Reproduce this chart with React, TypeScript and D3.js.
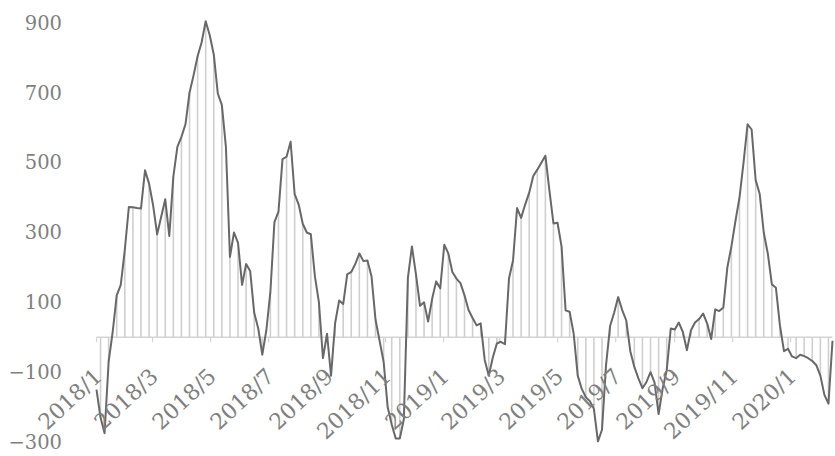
import { useEffect, useRef } from "react";
import * as d3 from "d3";

// weekly-ish readings, Jan 2018 -> mid Feb 2020
const VALUES = [
  -150, -230, -275, -70, 15, 120, 150, 250, 373, 372,
  370, 369, 478, 440, 378, 295, 345, 395, 290, 460,
  545, 574, 610, 700, 750, 805, 845, 905, 865, 810,
  698, 665, 545, 230, 300, 270, 150, 210, 190, 70,
  25, -50, 20, 130, 330, 360, 510, 517, 560, 410,
  380, 325, 300, 295, 175, 100, -60, 10, -110, 40,
  105, 95, 180, 187, 210, 240, 218, 220, 175, 50,
  -10, -70, -200, -250, -290, -290, -235, 170, 260, 180,
  90, 100, 45, 110, 160, 140, 265, 240, 187, 168,
  155, 120, 78, 55, 34, 40, -65, -110, -58, -18,
  -13, -20, 168, 220, 370, 342, 380, 414, 462, 480,
  500, 520, 420, 326, 328, 260, 77, 73, 10, -110,
  -148, -172, -183, -205, -298, -265, -80, 32, 70, 115,
  78, 48, -40, -85, -118, -146, -128, -100, -130, -220,
  -147, -95, 25, 22, 42, 15, -37, 20, 42, 52,
  68, 40, -5, 80, 75, 85, 200, 260, 333, 400,
  500, 610, 595, 450, 410, 300, 240, 152, 142, 34,
  -40, -33, -55, -60, -50, -54, -60, -68, -80, -110,
  -165, -190, -10,
];

const Y_TICKS = [-300, -100, 100, 300, 500, 700, 900];
const Y_LABELS = ["\u2212300", "\u2212100", "100", "300", "500", "700", "900"];

const X_TICKS = [
  "2018-01-01", "2018-03-01", "2018-05-01", "2018-07-01", "2018-09-01",
  "2018-11-01", "2019-01-01", "2019-03-01", "2019-05-01", "2019-07-01",
  "2019-09-01", "2019-11-01", "2020-01-01",
];
const X_LABELS = [
  "2018/1", "2018/3", "2018/5", "2018/7", "2018/9", "2018/11",
  "2019/1", "2019/3", "2019/5", "2019/7", "2019/9", "2019/11", "2020/1",
];

const W = 835;
const H = 456;

export default function App() {
  const ref = useRef<SVGSVGElement>(null);

  useEffect(() => {
    const svg = d3.select(ref.current);
    svg.selectAll("*").remove();

    const x0 = 96.5;
    const x1 = 832.5;
    const xt = d3
      .scaleTime()
      .domain([new Date(2018, 0, 1), new Date(2020, 1, 14)])
      .range([x0, x1]);
    const xi = d3.scaleLinear().domain([0, VALUES.length - 1]).range([x0, x1]);
    const y = d3.scaleLinear().domain([-300, 900]).range([442, 23]);
    const zero = y(0);

    // thin bars, every other reading
    svg
      .append("g")
      .selectAll("line")
      .data(VALUES.map((v, i) => ({ v, i })).filter((d) => d.i % 2 === 1))
      .join("line")
      .attr("x1", (d) => xi(d.i))
      .attr("x2", (d) => xi(d.i))
      .attr("y1", zero)
      .attr("y2", (d) => y(d.v))
      .attr("stroke", "#cfcfcf")
      .attr("stroke-width", 1.6);

    // zero axis + ticks
    svg
      .append("line")
      .attr("x1", x0)
      .attr("x2", x1)
      .attr("y1", zero)
      .attr("y2", zero)
      .attr("stroke", "#d4d4d4")
      .attr("stroke-width", 1.5);

    const tickDates = X_TICKS.map((s) => d3.timeParse("%Y-%m-%d")(s)!);
    svg
      .append("g")
      .selectAll("line")
      .data(tickDates)
      .join("line")
      .attr("x1", (d) => xt(d))
      .attr("x2", (d) => xt(d))
      .attr("y1", zero)
      .attr("y2", zero + 5)
      .attr("stroke", "#d4d4d4")
      .attr("stroke-width", 1.2);

    const line = d3
      .line<number>()
      .x((_, i) => xi(i))
      .y((d) => y(d));

    svg
      .append("path")
      .datum(VALUES)
      .attr("d", line)
      .attr("fill", "none")
      .attr("stroke", "#686868")
      .attr("stroke-width", 2)
      .attr("stroke-linejoin", "round");

    // y labels
    svg
      .append("g")
      .selectAll("text")
      .data(Y_TICKS)
      .join("text")
      .attr("x", 62)
      .attr("y", (d) => y(d))
      .attr("dy", "0.35em")
      .attr("text-anchor", "end")
      .attr("fill", "#7f7f7f")
      .attr("font-family", "DejaVu Serif")
      .attr("font-size", 19.5)
      .text((_, i) => Y_LABELS[i]);

    // x labels, rotated
    svg
      .append("g")
      .selectAll("text")
      .data(tickDates)
      .join("text")
      .attr(
        "transform",
        (d) => `translate(${xt(d) + 7},${zero + 41}) rotate(-43)`,
      )
      .attr("text-anchor", "end")
      .attr("fill", "#7f7f7f")
      .attr("font-family", "DejaVu Serif")
      .attr("font-size", 22)
      .text((_, i) => X_LABELS[i]);
  }, []);

  return (
    <svg
      ref={ref}
      width={W}
      height={H}
      style={{ position: "absolute", left: 0, top: 0, background: "#fff" }}
    />
  );
}
